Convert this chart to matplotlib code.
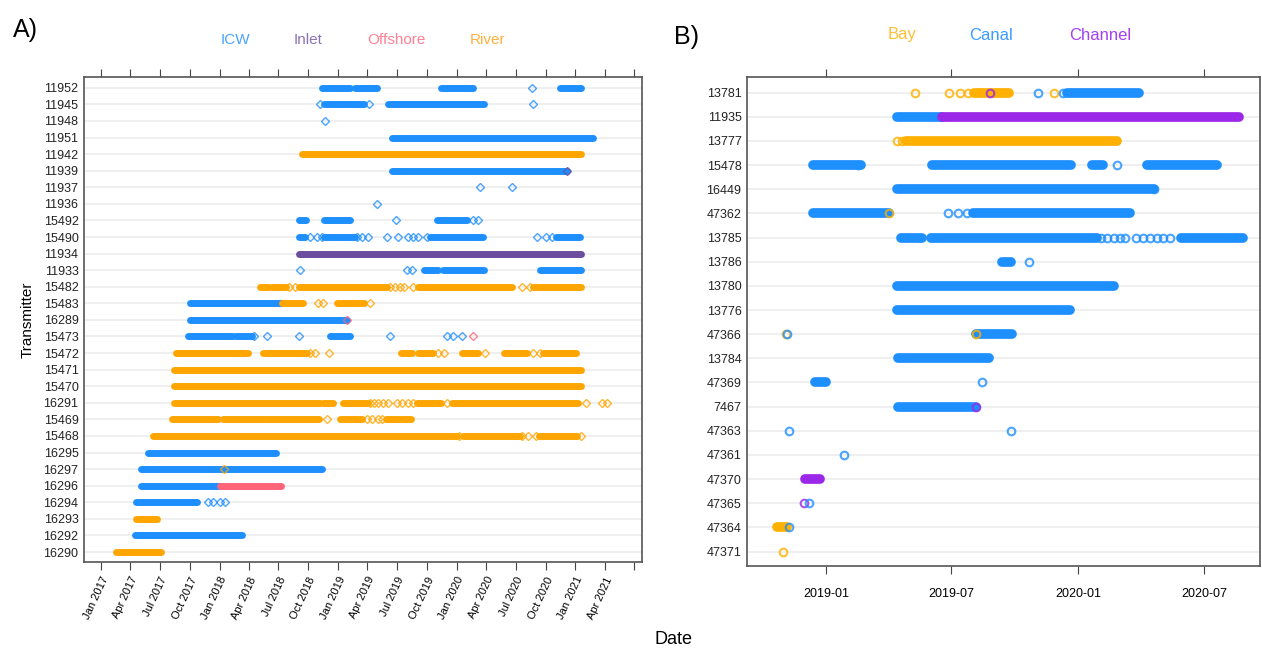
import pandas as pd
import numpy as np
import matplotlib
matplotlib.use('Agg')
import matplotlib.pyplot as plt
import matplotlib.dates as mdates

plt.rcParams['font.family'] = ['Liberation Sans', 'DejaVu Sans']

# ---- Panel A: transmitters (top to bottom) and habitat colours
a_rows = ['11952', '11945', '11948', '11951', '11942', '11939', '11937', '11936',
          '15492', '15490', '11934', '11933', '15482', '15483', '16289', '15473',
          '15472', '15471', '15470', '16291', '15469', '15468', '16295', '16297',
          '16296', '16294', '16293', '16292', '16290']
a_cats = ['ICW', 'Inlet', 'Offshore', 'River']
a_colors = {'ICW': '#1e8fff', 'Inlet': '#6c4c9c', 'Offshore': '#ff6479', 'River': '#ffa500'}
a_text_colors = {'ICW': '#4aa3ff', 'Inlet': '#8a73b3', 'Offshore': '#ff8094', 'River': '#ffb13d'}

# continuous detection runs: (transmitter, first, last, habitat)
a_segments = [
    ('11952', '2018-11-13', '2019-02-07', 'ICW'), ('11952', '2019-02-21', '2019-05-01', 'ICW'),
    ('11952', '2019-11-13', '2020-02-19', 'ICW'), ('11952', '2020-11-13', '2021-01-19', 'ICW'),
    ('11945', '2018-11-18', '2019-03-22', 'ICW'), ('11945', '2019-06-03', '2020-03-24', 'ICW'),
    ('11951', '2019-06-15', '2021-02-25', 'ICW'),
    ('11942', '2018-09-12', '2021-01-19', 'River'),
    ('11939', '2019-06-15', '2020-12-07', 'ICW'),
    ('15492', '2018-09-01', '2018-09-24', 'ICW'), ('15492', '2018-11-18', '2019-02-07', 'ICW'),
    ('15492', '2019-11-01', '2020-02-03', 'ICW'),
    ('15490', '2018-09-01', '2018-09-21', 'ICW'), ('15490', '2018-11-18', '2019-02-22', 'ICW'),
    ('15490', '2019-10-10', '2020-03-21', 'ICW'), ('15490', '2020-11-01', '2021-01-16', 'ICW'),
    ('11934', '2018-09-01', '2021-01-19', 'Inlet'),
    ('11933', '2019-09-22', '2019-11-04', 'ICW'), ('11933', '2019-11-20', '2020-03-24', 'ICW'),
    ('11933', '2020-09-15', '2021-01-19', 'ICW'),
    ('15482', '2018-05-06', '2018-06-01', 'River'), ('15482', '2018-06-10', '2018-07-25', 'River'),
    ('15482', '2018-09-01', '2019-06-01', 'River'), ('15482', '2019-09-04', '2020-06-21', 'River'),
    ('15482', '2020-08-24', '2021-01-19', 'River'),
    ('15483', '2017-10-01', '2018-07-15', 'ICW'), ('15483', '2018-07-12', '2018-09-15', 'River'),
    ('15483', '2018-12-28', '2019-03-22', 'River'),
    ('16289', '2017-10-01', '2019-01-28', 'ICW'),
    ('15473', '2017-09-25', '2018-02-12', 'ICW'), ('15473', '2018-02-21', '2018-04-12', 'ICW'),
    ('15473', '2018-12-06', '2019-02-07', 'ICW'),
    ('15472', '2017-08-19', '2018-03-28', 'River'), ('15472', '2018-05-13', '2018-09-27', 'River'),
    ('15472', '2019-07-15', '2019-08-16', 'River'), ('15472', '2019-09-04', '2019-10-19', 'River'),
    ('15472', '2020-01-18', '2020-03-06', 'River'), ('15472', '2020-05-25', '2020-08-06', 'River'),
    ('15472', '2020-09-24', '2021-01-04', 'River'),
    ('15471', '2017-08-12', '2021-01-19', 'River'),
    ('15470', '2017-08-12', '2021-01-19', 'River'),
    ('16291', '2017-08-12', '2018-11-06', 'River'), ('16291', '2018-11-15', '2018-12-15', 'River'),
    ('16291', '2019-01-15', '2019-04-03', 'River'), ('16291', '2019-09-01', '2019-11-15', 'River'),
    ('16291', '2019-12-18', '2021-01-09', 'River'),
    ('15469', '2017-08-06', '2017-12-27', 'River'), ('15469', '2018-01-12', '2018-05-18', 'River'),
    ('15469', '2018-05-24', '2018-11-03', 'River'), ('15469', '2019-01-06', '2019-03-16', 'River'),
    ('15469', '2019-05-27', '2019-08-12', 'River'),
    ('15468', '2017-06-09', '2020-01-03', 'River'), ('15468', '2020-01-21', '2020-07-15', 'River'),
    ('15468', '2020-09-12', '2021-01-06', 'River'),
    ('16295', '2017-05-24', '2018-06-25', 'ICW'),
    ('16297', '2017-05-03', '2018-11-13', 'ICW'),
    ('16296', '2017-05-03', '2018-01-01', 'ICW'), ('16296', '2018-01-01', '2018-07-10', 'Offshore'),
    ('16294', '2017-04-19', '2017-10-22', 'ICW'),
    ('16293', '2017-04-19', '2017-06-21', 'River'),
    ('16292', '2017-04-15', '2018-03-12', 'ICW'),
    ('16290', '2017-02-15', '2017-07-03', 'River'),
]

# single detections: (transmitter, date, habitat)
a_points = [
    ('11952', '2020-08-19', 'ICW'),
    ('11945', '2018-11-06', 'ICW'), ('11945', '2019-04-06', 'ICW'), ('11945', '2020-08-24', 'ICW'),
    ('11948', '2018-11-21', 'ICW'),
    ('11939', '2020-12-07', 'Inlet'),
    ('11937', '2020-03-12', 'ICW'), ('11937', '2020-06-21', 'ICW'),
    ('11936', '2019-05-01', 'ICW'),
    ('15492', '2019-06-27', 'ICW'), ('15492', '2020-02-21', 'ICW'), ('15492', '2020-03-06', 'ICW'),
    ('15490', '2018-10-06', 'ICW'), ('15490', '2018-10-27', 'ICW'), ('15490', '2018-11-12', 'ICW'),
    ('15490', '2019-03-01', 'ICW'), ('15490', '2019-03-16', 'ICW'), ('15490', '2019-04-03', 'ICW'),
    ('15490', '2019-06-01', 'ICW'), ('15490', '2019-07-03', 'ICW'), ('15490', '2019-08-03', 'ICW'),
    ('15490', '2019-08-19', 'ICW'), ('15490', '2019-09-04', 'ICW'), ('15490', '2019-10-01', 'ICW'),
    ('15490', '2020-09-06', 'ICW'), ('15490', '2020-10-01', 'ICW'), ('15490', '2020-10-21', 'ICW'),
    ('11933', '2018-09-06', 'ICW'), ('11933', '2019-08-01', 'ICW'), ('11933', '2019-08-16', 'ICW'),
    ('15482', '2018-08-04', 'River'), ('15482', '2018-08-20', 'River'), ('15482', '2019-06-09', 'River'),
    ('15482', '2019-06-24', 'River'), ('15482', '2019-07-09', 'River'), ('15482', '2019-07-24', 'River'),
    ('15482', '2019-08-19', 'River'), ('15482', '2020-07-20', 'River'), ('15482', '2020-08-15', 'River'),
    ('15483', '2018-11-01', 'River'), ('15483', '2018-11-15', 'River'), ('15483', '2019-04-09', 'River'),
    ('16289', '2019-01-28', 'Offshore'),
    ('15473', '2018-04-18', 'ICW'), ('15473', '2018-05-28', 'ICW'), ('15473', '2018-09-01', 'ICW'),
    ('15473', '2019-06-09', 'ICW'), ('15473', '2019-12-03', 'ICW'), ('15473', '2019-12-21', 'ICW'),
    ('15473', '2020-01-18', 'ICW'), ('15473', '2020-02-19', 'Offshore'),
    ('15472', '2018-10-06', 'River'), ('15472', '2018-10-21', 'River'), ('15472', '2018-12-04', 'River'),
    ('15472', '2019-11-04', 'River'), ('15472', '2019-11-24', 'River'), ('15472', '2020-03-27', 'River'),
    ('15472', '2020-08-24', 'River'), ('15472', '2020-09-15', 'River'),
    ('16291', '2019-04-09', 'River'), ('16291', '2019-04-21', 'River'), ('16291', '2019-05-03', 'River'),
    ('16291', '2019-05-18', 'River'), ('16291', '2019-06-03', 'River'), ('16291', '2019-07-01', 'River'),
    ('16291', '2019-07-18', 'River'), ('16291', '2019-08-03', 'River'), ('16291', '2019-08-19', 'River'),
    ('16291', '2019-12-01', 'River'), ('16291', '2021-02-01', 'River'), ('16291', '2021-03-24', 'River'),
    ('16291', '2021-04-09', 'River'),
    ('15469', '2018-11-27', 'River'), ('15469', '2019-04-01', 'River'), ('15469', '2019-04-15', 'River'),
    ('15469', '2019-05-03', 'River'), ('15469', '2019-05-15', 'River'),
    ('15468', '2020-01-09', 'River'), ('15468', '2020-07-20', 'River'), ('15468', '2020-08-09', 'River'),
    ('15468', '2020-09-01', 'River'), ('15468', '2021-01-19', 'River'),
    ('16297', '2018-01-15', 'River'),
    ('16294', '2017-11-25', 'ICW'), ('16294', '2017-12-10', 'ICW'), ('16294', '2018-01-03', 'ICW'),
    ('16294', '2018-01-18', 'ICW'),
]

# ---- Panel B
b_rows = ['13781', '11935', '13777', '15478', '16449', '47362', '13785', '13786', '13780',
          '13776', '47366', '13784', '47369', '7467', '47363', '47361', '47370', '47365',
          '47364', '47371']
b_cats = ['Bay', 'Canal', 'Channel']
b_colors = {'Bay': '#ffb000', 'Canal': '#1e8fff', 'Channel': '#9b27e8'}
b_text_colors = {'Bay': '#ffbf33', 'Canal': '#3a9bff', 'Channel': '#a43ff0'}

b_segments = [
    ('13781', '2019-08-03', '2019-09-23', 'Bay'), ('13781', '2019-12-15', '2020-03-29', 'Canal'),
    ('11935', '2019-04-13', '2019-06-17', 'Canal'), ('11935', '2019-06-17', '2020-08-21', 'Channel'),
    ('13777', '2019-04-26', '2020-02-26', 'Bay'),
    ('15478', '2018-12-13', '2019-02-20', 'Canal'), ('15478', '2019-06-03', '2019-12-21', 'Canal'),
    ('15478', '2020-01-20', '2020-02-06', 'Canal'), ('15478', '2020-04-09', '2020-07-19', 'Canal'),
    ('16449', '2019-04-13', '2020-04-20', 'Canal'),
    ('47362', '2018-12-13', '2019-04-01', 'Canal'), ('47362', '2019-08-01', '2020-03-15', 'Canal'),
    ('13785', '2019-04-19', '2019-05-19', 'Canal'), ('13785', '2019-06-01', '2020-01-28', 'Canal'),
    ('13785', '2020-05-29', '2020-08-26', 'Canal'),
    ('13786', '2019-09-13', '2019-09-26', 'Canal'),
    ('13780', '2019-04-13', '2020-02-22', 'Canal'),
    ('13776', '2019-04-13', '2019-12-20', 'Canal'),
    ('47366', '2019-08-06', '2019-09-27', 'Canal'),
    ('13784', '2019-04-15', '2019-08-25', 'Canal'),
    ('47369', '2018-12-16', '2019-01-01', 'Canal'),
    ('7467', '2019-04-15', '2019-08-06', 'Canal'),
    ('47370', '2018-12-01', '2018-12-23', 'Channel'),
    ('47364', '2018-10-21', '2018-11-05', 'Bay'),
]

b_points = [
    ('13781', '2019-05-10', 'Bay'), ('13781', '2019-06-27', 'Bay'), ('13781', '2019-07-13', 'Bay'),
    ('13781', '2019-07-25', 'Bay'), ('13781', '2019-08-26', 'Channel'), ('13781', '2019-11-03', 'Canal'),
    ('13781', '2019-11-26', 'Bay'), ('13781', '2019-12-09', 'Canal'),
    ('13777', '2019-04-13', 'Bay'), ('13777', '2019-04-20', 'Bay'),
    ('15478', '2019-02-16', 'Canal'), ('15478', '2020-02-26', 'Canal'),
    ('16449', '2020-04-20', 'Canal'),
    ('47362', '2019-04-01', 'Bay'), ('47362', '2019-06-26', 'Canal'), ('47362', '2019-07-10', 'Canal'),
    ('47362', '2019-07-23', 'Canal'),
    ('13785', '2020-02-02', 'Canal'), ('13785', '2020-02-12', 'Canal'), ('13785', '2020-02-22', 'Canal'),
    ('13785', '2020-03-01', 'Canal'), ('13785', '2020-03-08', 'Canal'), ('13785', '2020-03-25', 'Canal'),
    ('13785', '2020-04-04', 'Canal'), ('13785', '2020-04-14', 'Canal'), ('13785', '2020-04-24', 'Canal'),
    ('13785', '2020-05-02', 'Canal'), ('13785', '2020-05-12', 'Canal'),
    ('13786', '2019-10-22', 'Canal'),
    ('47366', '2018-11-04', 'Bay'), ('47366', '2018-11-05', 'Canal'), ('47366', '2019-08-06', 'Bay'),
    ('47369', '2019-08-15', 'Canal'),
    ('7467', '2019-08-06', 'Channel'),
    ('47363', '2018-11-08', 'Canal'), ('47363', '2019-09-25', 'Canal'),
    ('47361', '2019-01-27', 'Canal'),
    ('47365', '2018-11-29', 'Channel'), ('47365', '2018-12-07', 'Canal'),
    ('47364', '2018-11-08', 'Canal'),
    ('47371', '2018-10-30', 'Bay'),
]


def draw_panel(ax, rows, segments, points, colors, lw, marker, ms, mew):
    ypos = {r: len(rows) - 1 - i for i, r in enumerate(rows)}
    for r in rows:
        ax.axhline(ypos[r], color='#ececec', lw=1.2, zorder=0)
    for r, s, e, c in segments:
        ax.plot([pd.Timestamp(s), pd.Timestamp(e)], [ypos[r], ypos[r]], color=colors[c],
                lw=lw, solid_capstyle='round', zorder=2)
    for r, d, c in points:
        ax.plot(pd.Timestamp(d), ypos[r], marker=marker, ms=ms, mfc='none',
                mec=colors[c], mew=mew, alpha=0.8, zorder=3)
    ax.set_yticks(range(len(rows)))
    ax.set_yticklabels(rows[::-1])
    ax.set_ylim(-0.6, len(rows) - 1 + 0.65)
    ax.tick_params(axis='y', length=0, pad=4, labelsize=9, labelcolor='#222222')
    ax.tick_params(axis='x', top=True, direction='out', length=6, color='#444444')
    for sp in ax.spines.values():
        sp.set_color('#555555')
        sp.set_linewidth(1.2)


fig = plt.figure(figsize=(12.62, 6.52), dpi=100)

axA = fig.add_axes([84 / 1262, 90 / 652, 558 / 1262, 485 / 652])
draw_panel(axA, a_rows, a_segments, a_points, a_colors, 5, 'D', 4.5, 1.0)
a_ticks = pd.date_range('2017-01-01', '2021-07-01', freq='QS')
axA.set_xticks(a_ticks)
axA.set_xticklabels([d.strftime('%b %Y') for d in a_ticks[:-1]] + [''],
                    rotation=65, ha='right', rotation_mode='anchor', fontsize=8)
axA.set_xlim(pd.Timestamp('2016-11-09'), pd.Timestamp('2021-07-25'))
axA.set_ylabel('Transmitter', fontsize=11, labelpad=6)

axB = fig.add_axes([747 / 1262, 86 / 652, 513 / 1262, 489 / 652])
draw_panel(axB, b_rows, b_segments, b_points, b_colors, 7, 'o', 5.5, 1.5)
b_ticks = pd.to_datetime(['2019-01-01', '2019-07-01', '2020-01-01', '2020-07-01'])
axB.set_xticks(b_ticks)
axB.set_xticklabels([d.strftime('%Y-%m') for d in b_ticks], fontsize=9)
axB.tick_params(axis='x', pad=10)
axB.set_xlim(pd.Timestamp('2018-09-08'), pd.Timestamp('2020-09-20'))

# habitat keys above each panel
for c, x in zip(a_cats, [235, 308, 396, 488]):
    fig.text(x / 1262, 1 - 40 / 652, c, color=a_text_colors[c], fontsize=11, ha='center', va='center')
for c, x in zip(b_cats, [902, 991, 1100]):
    fig.text(x / 1262, 1 - 35 / 652, c, color=b_text_colors[c], fontsize=12, ha='center', va='center')

fig.text(25 / 1262, 1 - 30 / 652, 'A)', fontsize=18, ha='center', va='center')
fig.text(686 / 1262, 1 - 37 / 652, 'B)', fontsize=18, ha='center', va='center')
fig.text(673 / 1262, 1 - 640 / 652, 'Date', fontsize=13, ha='center', va='center')

fig.savefig('out.png', dpi=100)
